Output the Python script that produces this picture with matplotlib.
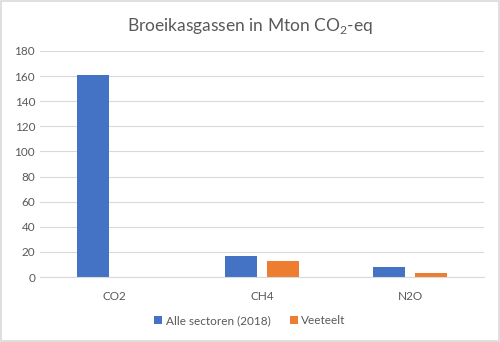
import matplotlib
matplotlib.use('Agg')
import matplotlib.pyplot as plt
import numpy as np

# Broeikasgassen in Mton CO2-eq
categories = ['CO2', 'CH4', 'N2O']
alle_sectoren = [160.5, 16.8, 7.8]
veeteelt = [0, 12.6, 3.2]
series_labels = ['Alle sectoren (2018)', 'Veeteelt']

plt.rcParams['font.family'] = ['Lato', 'DejaVu Sans']
text_color = '#595959'

fig = plt.figure(figsize=(5, 3.42), dpi=100)
ax = fig.add_axes([0.08, 0.19, 0.888, 0.661])

x = np.arange(len(categories))
width = 0.22
ax.bar(x - 0.142, alle_sectoren, width, color='#4472c4', label=series_labels[0])
ax.bar(x + 0.142, veeteelt, width, color='#ed7d31', label=series_labels[1])

ax.set_xlim(-0.5, 2.5)
ax.set_ylim(0, 180)
ax.set_yticks(range(0, 181, 20))
ax.set_xticks(x)
ax.set_xticklabels(categories)
ax.grid(axis='y', color='#d9d9d9', linewidth=0.8)
ax.set_axisbelow(True)
for s in ['top', 'right', 'left']:
    ax.spines[s].set_visible(False)
ax.spines['bottom'].set_color('#d9d9d9')
ax.tick_params(length=0, labelsize=8.5, colors=text_color)
ax.tick_params(axis='x', pad=10)

fig.text(0.5, 0.925, r'Broeikasgassen in Mton CO$_\mathregular{2}$-eq', ha='center', va='center',
         fontsize=12.5, color=text_color)

fig.legend(loc='center', bbox_to_anchor=(0.5, 0.062), ncol=2, frameon=False,
           fontsize=8.5, labelcolor=text_color, handlelength=0.7, handleheight=0.7,
           handletextpad=0.3, columnspacing=1.6)

fig.patches.append(plt.Rectangle((0.002, 0.003), 0.996, 0.994, transform=fig.transFigure,
                                 fill=False, edgecolor='#d9d9d9', linewidth=1.2))

fig.savefig('out.png', dpi=100)
